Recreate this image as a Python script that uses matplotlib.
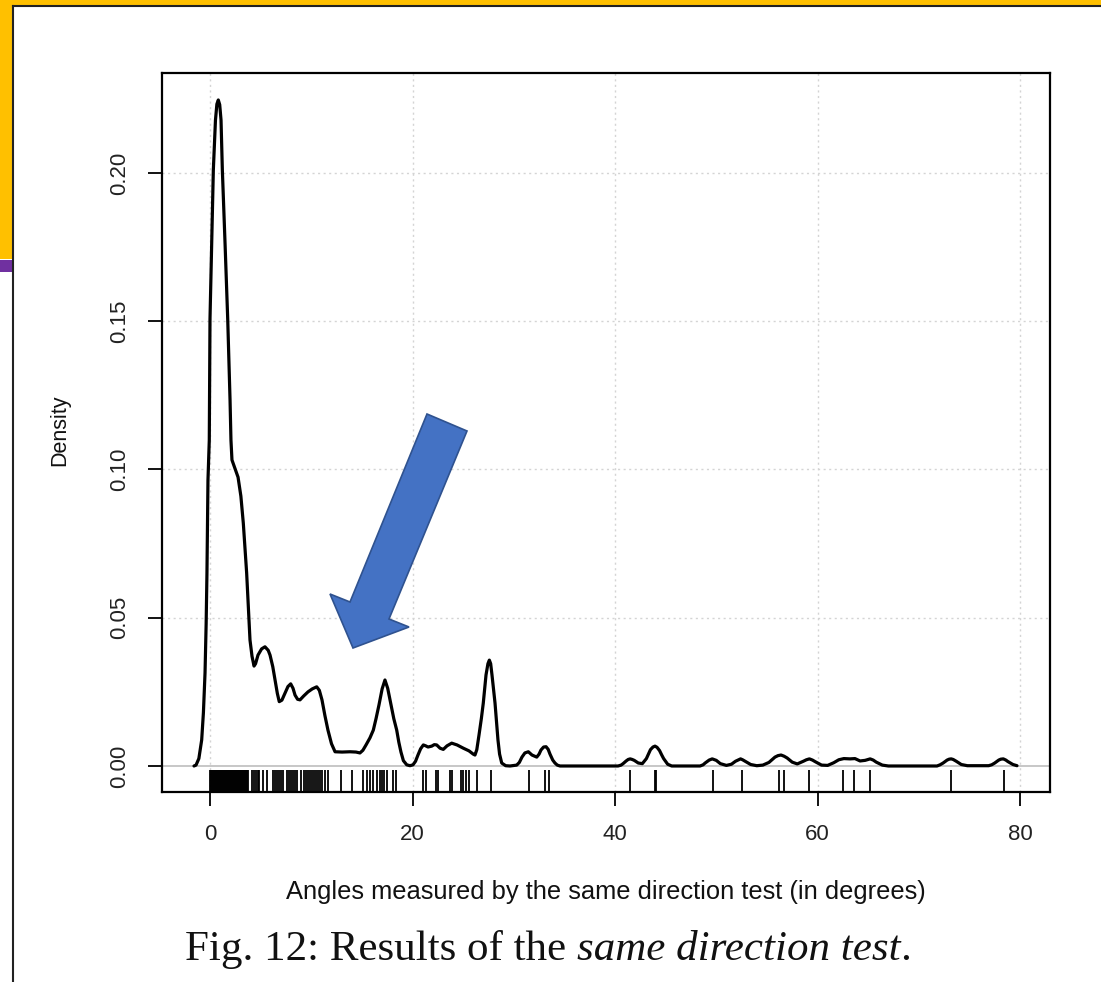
import matplotlib
matplotlib.use("Agg")
import matplotlib.pyplot as plt
from matplotlib.patches import Rectangle, Polygon
from matplotlib.lines import Line2D

# ---------------- data ----------------
density_x = [-1.58, -1.38, -1.10, -0.82, -0.65, -0.49, -0.38, -0.30, -0.20, -0.07, 0.0,
             0.20, 0.33, 0.54, 0.68, 0.82, 0.96, 1.09, 1.22, 1.50, 1.75, 1.98, 2.07,
             2.17, 2.45, 2.77, 3.05, 3.29, 3.62, 3.95, 4.15, 4.35, 4.50, 4.74, 5.10,
             5.43, 5.75, 5.93, 6.20, 6.42, 6.65, 6.84, 7.10, 7.41, 7.70, 7.97, 8.20,
             8.40, 8.65, 8.89, 9.25, 9.68, 10.1, 10.54, 10.8, 11.06, 11.35, 11.65,
             12.0, 12.35, 13.04, 13.83, 14.42, 14.81, 15.10, 15.41, 15.80, 16.13,
             16.40, 16.69, 17.00, 17.28, 17.55, 17.88, 18.15, 18.44, 18.65, 18.86,
             19.10, 19.43, 19.75, 20.05, 20.30, 20.54, 20.80, 21.07, 21.30, 21.53,
             21.90, 22.15, 22.39, 22.72, 23.04, 23.41, 23.87, 24.40, 25.02, 25.58,
             26.00, 26.17, 26.35, 26.57, 26.80, 26.99, 27.26, 27.45, 27.59, 27.72,
             27.85, 28.15, 28.30, 28.44, 28.60, 28.81, 29.20, 29.63, 30.29, 30.55,
             30.81, 31.10, 31.44, 31.80, 32.27, 32.50, 32.69, 32.95, 33.19, 33.40,
             33.58, 33.85, 34.07, 34.30, 34.57, 40.3, 40.6, 40.8, 41.1, 41.3, 41.5,
             41.7, 41.9, 42.3, 42.7, 43.1, 43.3, 43.5, 43.75, 43.95, 44.15, 44.4,
             44.6, 44.8, 45.2, 45.6, 48.4, 48.7, 48.9, 49.3, 49.6, 50.0, 50.4, 51.0,
             51.5, 51.9, 52.2, 52.4, 52.6, 52.9, 53.4, 54.0, 54.6, 55.2, 55.5, 55.8,
             56.1, 56.4, 56.7, 57.0, 57.5, 58.0, 58.6, 58.9, 59.2, 59.5, 59.8, 60.4,
             61.0, 61.6, 62.1, 62.6, 63.2, 63.7, 64.2, 64.7, 65.0, 65.2, 65.5, 65.8,
             66.4, 67.0, 71.8, 72.1, 72.4, 72.8, 73.0, 73.2, 73.4, 73.7, 74.2, 74.8,
             76.9, 77.2, 77.5, 77.9, 78.1, 78.35, 78.6, 78.8, 79.3, 79.7]
density_y = [0.0, 0.0003, 0.0025, 0.0088, 0.0180, 0.0314, 0.0480, 0.0651, 0.0964, 0.1099, 0.1507,
             0.1820, 0.2010, 0.2178, 0.2232, 0.2246, 0.2230, 0.2178, 0.2010, 0.1750, 0.1507, 0.1234, 0.1099,
             0.1032, 0.1005, 0.0974, 0.0910, 0.0819, 0.0651, 0.0425, 0.0370, 0.0337, 0.0345, 0.0374, 0.0395,
             0.0402, 0.0390, 0.0374, 0.0335, 0.0290, 0.0245, 0.0217, 0.0222, 0.0246, 0.0268, 0.0277, 0.0262,
             0.0239, 0.0225, 0.0223, 0.0236, 0.0250, 0.0260, 0.0267, 0.0255, 0.0223, 0.0170, 0.0121,
             0.0075, 0.0048, 0.0047, 0.0048, 0.0047, 0.0044, 0.0053, 0.0071, 0.0095, 0.0121,
             0.0160, 0.0206, 0.0260, 0.0290, 0.0262, 0.0206, 0.0160, 0.0121, 0.0080, 0.0047,
             0.0018, 0.0004, 0.0001, 0.0004, 0.0016, 0.0037, 0.0058, 0.0071, 0.0068, 0.0064,
             0.0067, 0.0072, 0.0071, 0.0060, 0.0056, 0.0068, 0.0077, 0.0071, 0.0060, 0.0051,
             0.0040, 0.0037, 0.0055, 0.0105, 0.0160, 0.0212, 0.0307, 0.0345, 0.0357, 0.0345,
             0.0307, 0.0212, 0.0150, 0.0088, 0.0040, 0.0010, 0.0001, 0.0, 0.0003, 0.0012,
             0.0030, 0.0044, 0.0048, 0.0037, 0.0030, 0.0040, 0.0054, 0.0064, 0.0065, 0.0056,
             0.0040, 0.0020, 0.0010, 0.0003, 0.0, 0.0, 0.0003, 0.0008, 0.0017, 0.0022, 0.0024,
             0.0022, 0.0019, 0.0010, 0.0008, 0.0025, 0.0040, 0.0055, 0.0064, 0.0067, 0.0063, 0.0052,
             0.0038, 0.0025, 0.0006, 0.0, 0.0, 0.0004, 0.0010, 0.0020, 0.0024, 0.0019, 0.0008, 0.0002,
             0.0006, 0.0016, 0.0021, 0.0024, 0.0021, 0.0015, 0.0005, 0.0001, 0.0003, 0.0012, 0.0021, 0.0030,
             0.0035, 0.0037, 0.0033, 0.0027, 0.0013, 0.0007, 0.0016, 0.0021, 0.0024, 0.0020, 0.0014, 0.0003,
             0.0002, 0.0011, 0.0021, 0.0025, 0.0024, 0.0025, 0.0017, 0.0019, 0.0022, 0.0024, 0.0020, 0.0013,
             0.0003, 0.0, 0.0, 0.0004, 0.0010, 0.0020, 0.0023, 0.0024, 0.0022, 0.0016, 0.0005, 0.0001,
             0.0001, 0.0004, 0.0010, 0.0020, 0.0023, 0.0024, 0.0020, 0.0015, 0.0005, 0.0001]

rug_values = [0.0, 0.1, 0.2, 0.3, 0.4, 0.5, 0.6, 0.7, 0.8, 0.9, 1.0, 1.1, 1.2, 1.3, 1.4,
              1.5, 1.6, 1.7, 1.8, 1.9, 2.0, 2.1, 2.2, 2.3, 2.4, 2.5, 2.6, 2.7, 2.8, 2.9,
              3.0, 3.1, 3.2, 3.3, 3.4, 3.5, 3.6, 3.7, 3.8,
              4.1, 4.3, 4.5, 4.7, 4.87, 5.27, 5.66, 6.2, 6.4, 6.6, 6.8, 7.0, 7.24,
              7.57, 7.8, 8.0, 8.2, 8.4, 8.56, 8.95, 9.28, 9.5, 9.7, 9.9, 10.1, 10.3,
              10.5, 10.7, 10.9, 11.03, 11.36, 11.69, 12.94, 13.99, 15.14, 15.47, 15.80,
              16.13, 16.46, 16.8, 17.0, 17.2, 17.5, 18.11, 18.37, 21.0, 21.3, 22.35,
              22.55, 23.7, 23.95, 24.8, 25.0, 25.28, 25.61, 26.34, 27.72, 31.54, 33.09,
              33.48, 41.5, 43.9, 44.0, 49.7, 52.5, 56.2, 56.7, 59.2, 62.5, 63.6, 65.2,
              73.2, 78.4]

x_ticks = [0, 20, 40, 60, 80]
x_tick_labels = ["0", "20", "40", "60", "80"]
y_ticks = [0.00, 0.05, 0.10, 0.15, 0.20]
y_tick_labels = ["0.00", "0.05", "0.10", "0.15", "0.20"]
x_label = "Angles measured by the same direction test (in degrees)"
y_label = "Density"

# ---------------- figure ----------------
W, H = 1101, 982
fig = plt.figure(figsize=(W / 100, H / 100), dpi=100)
fig.patch.set_facecolor("white")


def fx(px):
    return px / W


def fy(py):
    return 1 - py / H


# slide frame decoration
fig.add_artist(Rectangle((0, fy(6)), 1, 6 / H, transform=fig.transFigure,
                         facecolor="#FFC000", edgecolor="none", zorder=0))
fig.add_artist(Rectangle((0, fy(259)), 13 / W, 253 / H, transform=fig.transFigure,
                         facecolor="#FFC000", edgecolor="none", zorder=0))
fig.add_artist(Rectangle((0, fy(272)), 13 / W, 12 / H, transform=fig.transFigure,
                         facecolor="#7030A0", edgecolor="none", zorder=0))
fig.add_artist(Line2D([fx(13), 1], [fy(6), fy(6)], transform=fig.transFigure,
                      color="#222222", lw=1.5))
fig.add_artist(Line2D([fx(13), fx(13)], [fy(6), 0], transform=fig.transFigure,
                      color="#222222", lw=1.5))

left, right, top, bottom = 162, 1050, 73, 792
ax = fig.add_axes([fx(left), fy(bottom), (right - left) / W, (bottom - top) / H])

font = "Liberation Sans"
ax.set_xlim(-4.74, 82.96)
ax.set_ylim(-0.00877, 0.2337)

# grid
for xv in x_ticks:
    ax.axvline(xv, color="#d4d4d4", lw=1.0, ls=(0, (1.5, 2.5)), zorder=0)
for yv in y_ticks[1:]:
    ax.axhline(yv, color="#d4d4d4", lw=1.0, ls=(0, (1.5, 2.5)), zorder=0)
ax.axhline(0, color="#bdbdbd", lw=1.2, zorder=1)

ax.plot(density_x, density_y, color="black", lw=2.3, solid_joinstyle="round",
        solid_capstyle="round", zorder=3)
ax.vlines(rug_values, 0, 0.03, transform=ax.get_xaxis_transform(),
          color="black", lw=1.3, zorder=3)

for s in ax.spines.values():
    s.set_linewidth(1.6)
    s.set_color("black")

ax.set_xticks(x_ticks)
ax.set_xticklabels(x_tick_labels, fontfamily=font, fontsize=16, color="#222222")
ax.set_yticks(y_ticks)
ax.set_yticklabels(y_tick_labels, fontfamily=font, fontsize=16, color="#222222",
                   rotation=90, va="center")
ax.tick_params(axis="both", direction="out", length=10, width=1.3, color="black")
ax.tick_params(axis="x", pad=13)
ax.tick_params(axis="y", pad=13)

fig.text(fx(606), fy(892), x_label, ha="center", va="center",
         fontfamily=font, fontsize=18.4, color="#111111")
fig.text(fx(60), fy(430), y_label, ha="center", va="center", rotation=90,
         fontfamily=font, fontsize=15.5, color="#111111")

# caption
serif = "Liberation Serif"
t1 = fig.text(fx(185), fy(960), "Fig. 12: Results of the ", ha="left", va="baseline",
              fontfamily=serif, fontsize=31, color="#111111")
t2 = ax.annotate("same direction test", xy=(1, 0), xycoords=t1, ha="left", va="bottom",
                 fontfamily=serif, fontsize=31, fontstyle="italic", color="#111111",
                 annotation_clip=False)
t3 = ax.annotate(".", xy=(1, 0), xycoords=t2, ha="left", va="bottom",
                 fontfamily=serif, fontsize=31, color="#111111", annotation_clip=False)

# blue block arrow overlay
arrow_px = [(427, 414), (467, 431), (389, 619), (409, 627), (353, 648), (330, 594), (350, 602)]
arrow = Polygon([(fx(a), fy(b)) for a, b in arrow_px], closed=True, transform=fig.transFigure,
                facecolor="#4472C4", edgecolor="#2F528F", lw=1.2, zorder=10)
fig.add_artist(arrow)

fig.savefig("out.png", dpi=100)
